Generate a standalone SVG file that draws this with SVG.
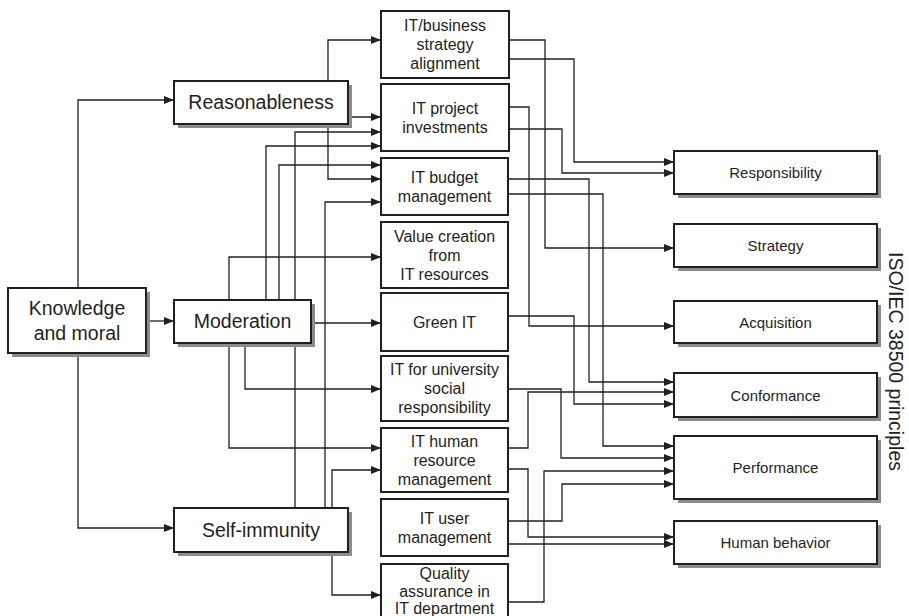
<svg xmlns="http://www.w3.org/2000/svg" width="909" height="616" viewBox="0 0 909 616">
  <style>
    .box { fill: #ffffff; stroke: #231f20; stroke-width: 2; }
    .shadow { fill: #8c8c8c; }
    .wire { fill: none; stroke: #231f20; stroke-width: 1.3; marker-end: url(#arrow); }
    text { font-family: "Liberation Sans", Arial, Helvetica, sans-serif; fill: #231f20; text-anchor: middle; }
    .big { font-size: 19.5px; }
    .mid { font-size: 16px; }
    .small { font-size: 15px; }
  </style>
  <defs>
    <marker id="arrow" viewBox="0 0 10 8" refX="10" refY="4" markerWidth="10" markerHeight="8" markerUnits="userSpaceOnUse" orient="auto">
      <path d="M0,0 L10,4 L0,8 Z" fill="#231f20"/>
    </marker>
  </defs>

  <rect width="909" height="616" fill="#ffffff"/>

  <!-- connectors -->
  <g id="connectors">
    <!-- Knowledge and moral -->
    <path class="wire" d="M78,288 V100 H174"/>
    <path class="wire" d="M146,321 H174"/>
    <path class="wire" d="M78,353 V528 H174"/>
    <!-- Reasonableness -->
    <path class="wire" d="M328,81 V40 H381"/>
    <path class="wire" d="M348,117 H381"/>
    <path class="wire" d="M328,124 V179 H381"/>
    <!-- Moderation -->
    <path class="wire" d="M229,300 V257 H381"/>
    <path class="wire" d="M266,300 V146 H381"/>
    <path class="wire" d="M279,300 V165 H381"/>
    <path class="wire" d="M311,323 H381"/>
    <path class="wire" d="M245,343 V389 H381"/>
    <path class="wire" d="M229,343 V448 H381"/>
    <!-- Self-immunity -->
    <path class="wire" d="M295,508 V132 H381"/>
    <path class="wire" d="M325,508 V202 H381"/>
    <path class="wire" d="M332,508 V470 H381"/>
    <path class="wire" d="M332,552 V595 H381"/>
    <!-- IT areas to principles -->
    <path class="wire" d="M509,40 H545 V248 H674"/>
    <path class="wire" d="M509,59 H574 V162 H674"/>
    <path class="wire" d="M509,107 H529 V326 H674"/>
    <path class="wire" d="M509,129 H562 V173 H674"/>
    <path class="wire" d="M508,179 H589 V382 H674"/>
    <path class="wire" d="M508,194 H603 V446 H674"/>
    <path class="wire" d="M508,316 H574 V404 H674"/>
    <path class="wire" d="M508,389 H561 V458 H674"/>
    <path class="wire" d="M508,448 H528 V392 H674"/>
    <path class="wire" d="M508,469 H528 V537 H674"/>
    <path class="wire" d="M508,521 H562 V484 H674"/>
    <path class="wire" d="M508,544 H674"/>
    <path class="wire" d="M508,602 H544 V471 H674"/>
  </g>

  <!-- sufficiency economy nodes -->
  <g id="knowledge-moral">
    <rect class="shadow" x="12" y="292" width="138" height="65"/>
    <rect class="box" x="8" y="288" width="138" height="65"/>
    <text class="big" x="77" y="315">Knowledge</text>
    <text class="big" x="77" y="340">and moral</text>
  </g>
  <g id="reasonableness">
    <rect class="shadow" x="178" y="85" width="174" height="43"/>
    <rect class="box" x="174" y="81" width="174" height="43"/>
    <text class="big" x="261" y="109">Reasonableness</text>
  </g>
  <g id="moderation">
    <rect class="shadow" x="178" y="304" width="137" height="43"/>
    <rect class="box" x="174" y="300" width="137" height="43"/>
    <text class="big" x="242.5" y="328">Moderation</text>
  </g>
  <g id="self-immunity">
    <rect class="shadow" x="178" y="512" width="174" height="44"/>
    <rect class="box" x="174" y="508" width="174" height="44"/>
    <text class="big" x="261" y="537">Self-immunity</text>
  </g>

  <!-- IT governance areas -->
  <g id="it-business-alignment">
    <rect class="box" x="381" y="11" width="128" height="67"/>
    <text class="mid" x="445" y="31">IT/business</text>
    <text class="mid" x="445" y="50">strategy</text>
    <text class="mid" x="445" y="69">alignment</text>
  </g>
  <g id="it-project-investments">
    <rect class="box" x="381" y="84" width="128" height="67"/>
    <text class="mid" x="445" y="114">IT project</text>
    <text class="mid" x="445" y="133">investments</text>
  </g>
  <g id="it-budget-management">
    <rect class="box" x="381" y="158" width="127" height="57"/>
    <text class="mid" x="444.5" y="183">IT budget</text>
    <text class="mid" x="444.5" y="202">management</text>
  </g>
  <g id="value-creation">
    <rect class="box" x="381" y="222" width="127" height="66"/>
    <text class="mid" x="444.5" y="242">Value creation</text>
    <text class="mid" x="444.5" y="261">from</text>
    <text class="mid" x="444.5" y="280">IT resources</text>
  </g>
  <g id="green-it">
    <rect class="box" x="381" y="293" width="127" height="58"/>
    <text class="mid" x="444.5" y="328">Green IT</text>
  </g>
  <g id="it-social-responsibility">
    <rect class="box" x="381" y="356" width="127" height="65"/>
    <text class="mid" x="444.5" y="375">IT for university</text>
    <text class="mid" x="444.5" y="394">social</text>
    <text class="mid" x="444.5" y="413">responsibility</text>
  </g>
  <g id="it-human-resource">
    <rect class="box" x="381" y="428" width="127" height="64"/>
    <text class="mid" x="444.5" y="447">IT human</text>
    <text class="mid" x="444.5" y="466">resource</text>
    <text class="mid" x="444.5" y="485">management</text>
  </g>
  <g id="it-user-management">
    <rect class="box" x="381" y="499" width="127" height="57"/>
    <text class="mid" x="444.5" y="524">IT user</text>
    <text class="mid" x="444.5" y="543">management</text>
  </g>
  <g id="quality-assurance">
    <rect class="box" x="381" y="564" width="127" height="60"/>
    <text class="mid" x="444.5" y="579">Quality</text>
    <text class="mid" x="444.5" y="597">assurance in</text>
    <text class="mid" x="444.5" y="614">IT department</text>
  </g>

  <!-- ISO/IEC 38500 principles -->
  <g id="responsibility">
    <rect class="shadow" x="678" y="155" width="203" height="43"/>
    <rect class="box" x="674" y="151" width="203" height="43"/>
    <text class="small" x="775.5" y="178">Responsibility</text>
  </g>
  <g id="strategy">
    <rect class="shadow" x="678" y="228" width="203" height="43"/>
    <rect class="box" x="674" y="224" width="203" height="43"/>
    <text class="small" x="775.5" y="251">Strategy</text>
  </g>
  <g id="acquisition">
    <rect class="shadow" x="678" y="305" width="203" height="42"/>
    <rect class="box" x="674" y="301" width="203" height="42"/>
    <text class="small" x="775.5" y="328">Acquisition</text>
  </g>
  <g id="conformance">
    <rect class="shadow" x="678" y="377" width="203" height="44"/>
    <rect class="box" x="674" y="373" width="203" height="44"/>
    <text class="small" x="775.5" y="401">Conformance</text>
  </g>
  <g id="performance">
    <rect class="shadow" x="678" y="440" width="203" height="63"/>
    <rect class="box" x="674" y="436" width="203" height="63"/>
    <text class="small" x="775.5" y="473">Performance</text>
  </g>
  <g id="human-behavior">
    <rect class="shadow" x="678" y="525" width="203" height="43"/>
    <rect class="box" x="674" y="521" width="203" height="43"/>
    <text class="small" x="775.5" y="548">Human behavior</text>
  </g>

  <g id="principles-label">
    <text class="big" transform="translate(889,361.5) rotate(90)" x="0" y="0">ISO/IEC 38500 principles</text>
  </g>
</svg>
